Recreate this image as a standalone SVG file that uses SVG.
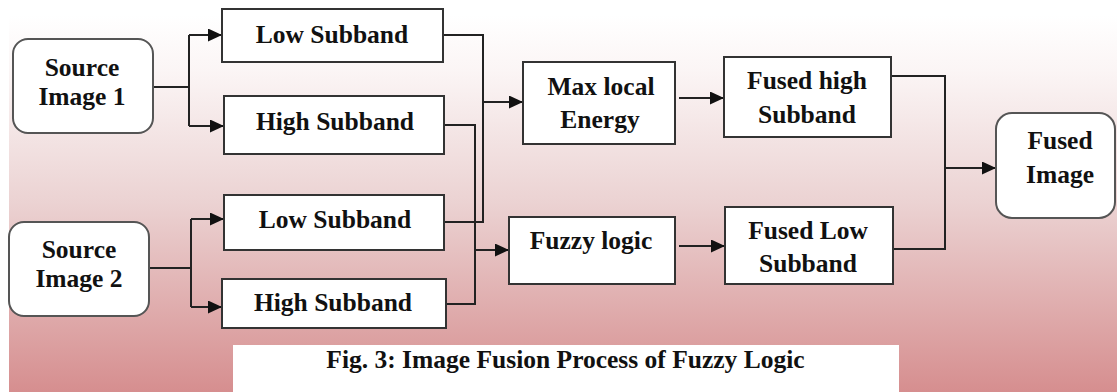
<svg xmlns="http://www.w3.org/2000/svg" width="1117" height="392" viewBox="0 0 1117 392">
  <defs>
    <linearGradient id="bg" x1="0" y1="15" x2="0" y2="392" gradientUnits="userSpaceOnUse">
      <stop offset="0" stop-color="#ffffff"/>
      <stop offset="0.15" stop-color="#fbf5f5"/>
      <stop offset="0.5" stop-color="#ebd2d2"/>
      <stop offset="1" stop-color="#d68e8f"/>
    </linearGradient>
    <marker id="arr" markerUnits="userSpaceOnUse" markerWidth="16" markerHeight="14" refX="14" refY="6.5" orient="auto">
      <polygon points="0,0 14,6.5 0,13" fill="#111"/>
    </marker>
    <style>
      .box { fill: #ffffff; stroke: #333333; stroke-width: 2; }
      .rbox { fill: #ffffff; stroke: #555555; stroke-width: 2; }
      .t { font-family: "Liberation Serif", "Times New Roman", serif; font-weight: bold; font-size: 25.5px; fill: #111111; text-anchor: middle; }
      .c { fill: none; stroke: #222222; stroke-width: 2; }
      .a { fill: none; stroke: #222222; stroke-width: 2; marker-end: url(#arr); }
    </style>
  </defs>

  <rect x="0" y="0" width="1117" height="392" fill="#ffffff"/>
  <rect x="9" y="15" width="1108" height="377" fill="url(#bg)"/>
  <rect x="233" y="345" width="666" height="47" fill="#ffffff"/>

  <g id="connectors">
    <path class="c" d="M153,87 H189 M189,35 V126"/>
    <path class="a" d="M189,35 H222"/>
    <path class="a" d="M189,126 H224"/>
    <path class="c" d="M149,268 H191 M191,219 V307"/>
    <path class="a" d="M191,219 H224"/>
    <path class="a" d="M191,307 H222"/>
    <path class="c" d="M443,35 H483 V222 H444"/>
    <path class="a" d="M483,102 H523"/>
    <path class="c" d="M444,125 H475 V304 H446"/>
    <path class="a" d="M475,250 H509"/>
    <path class="a" d="M679,98 H724"/>
    <path class="a" d="M679,246 H725"/>
    <path class="c" d="M891,76 H945 V249 H893"/>
    <path class="a" d="M945,168 H996"/>
  </g>

  <g id="source1">
    <rect class="rbox" x="13" y="39" width="140" height="94" rx="15"/>
    <text class="t" x="82" y="76">Source</text>
    <text class="t" x="82" y="105">Image 1</text>
  </g>
  <g id="source2">
    <rect class="rbox" x="9" y="222" width="140" height="94" rx="15"/>
    <text class="t" x="79" y="258">Source</text>
    <text class="t" x="79" y="287">Image 2</text>
  </g>
  <g id="low1">
    <rect class="box" x="222" y="9" width="221" height="53"/>
    <text class="t" x="332" y="43">Low Subband</text>
  </g>
  <g id="high1">
    <rect class="box" x="224" y="96" width="220" height="58"/>
    <text class="t" x="335" y="130">High Subband</text>
  </g>
  <g id="low2">
    <rect class="box" x="224" y="195" width="220" height="55"/>
    <text class="t" x="335" y="228">Low Subband</text>
  </g>
  <g id="high2">
    <rect class="box" x="222" y="279" width="224" height="49"/>
    <text class="t" x="333" y="311">High Subband</text>
  </g>
  <g id="maxlocal">
    <rect class="box" x="523" y="62" width="152" height="82"/>
    <text class="t" x="601" y="95">Max local</text>
    <text class="t" x="600" y="128">Energy</text>
  </g>
  <g id="fuzzy">
    <rect class="box" x="509" y="217" width="166" height="67"/>
    <text class="t" x="591" y="249">Fuzzy logic</text>
  </g>
  <g id="fusedhigh">
    <rect class="box" x="724" y="57" width="167" height="80"/>
    <text class="t" x="807" y="89">Fused high</text>
    <text class="t" x="807" y="123">Subband</text>
  </g>
  <g id="fusedlow">
    <rect class="box" x="725" y="207" width="168" height="77"/>
    <text class="t" x="808" y="239">Fused Low</text>
    <text class="t" x="808" y="272">Subband</text>
  </g>
  <g id="fusedimage">
    <rect class="rbox" x="996" y="113" width="119" height="105" rx="16"/>
    <text class="t" x="1060" y="149">Fused</text>
    <text class="t" x="1060" y="183">Image</text>
  </g>

  <text class="t" x="565.5" y="368">Fig. 3: Image Fusion Process of Fuzzy Logic</text>
</svg>
